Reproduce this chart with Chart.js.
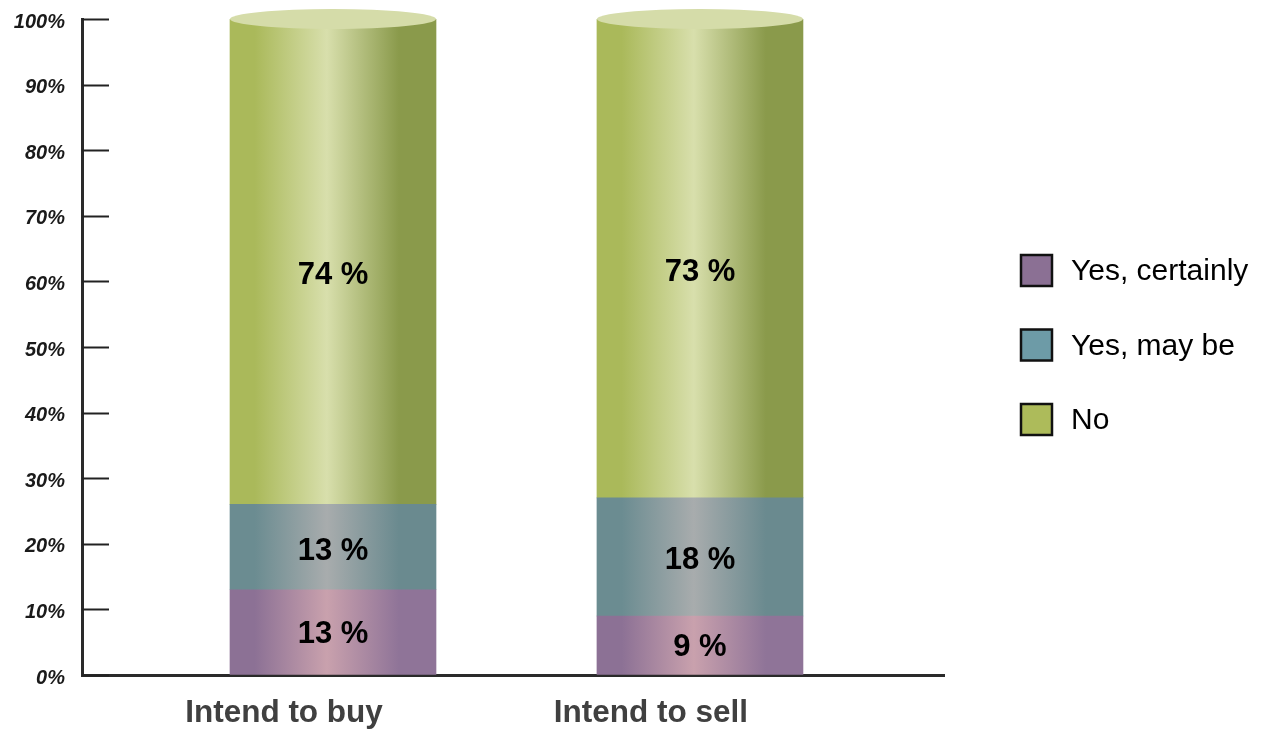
<!DOCTYPE html>
<html>
<head>
<meta charset="utf-8">
<title>Intentions to buy or sell</title>
<script src="https://cdn.jsdelivr.net/npm/chart.js@4.4.1/dist/chart.umd.min.js"></script>
<style>
  html, body { margin: 0; padding: 0; background: #ffffff; }
  #wrap { width: 1270px; height: 730px; position: relative; }
</style>
</head>
<body>
<div id="wrap"><canvas id="chart" width="1270" height="730"></canvas></div>
<script>
// ---- data ----
const categories = ['Intend to buy', 'Intend to sell'];
const seriesNames = ['Yes, certainly', 'Yes, may be', 'No'];
const yesCertainly = [13, 9];
const yesMaybe = [13, 18];
const no = [74, 73];
const yTicks = [0, 10, 20, 30, 40, 50, 60, 70, 80, 90, 100];

// ---- styling ----
const FONT = 'Arial, "Liberation Sans", sans-serif';
const shades = [
  { left: '#8c7195', mid: '#c9a1ad', right: '#8f7498', key: '#8b7094', nudge: 2 },
  { left: '#6b8c91', mid: '#a8acad', right: '#6a8a8f', key: '#6d9ba7', nudge: 4 },
  { left: '#aab95a', mid: '#d8dfac', right: '#8a9a4b', key: '#adbb5a', nudge: 14 }
];

function cylinderFill(c, s) {
  const chart = c.chart;
  if (!chart.chartArea || !c.raw) return s.left;
  const xs = chart.scales.x;
  const cx = xs.getPixelForValue(c.raw.x);
  const half = 103;
  const g = chart.ctx.createLinearGradient(cx - half, 0, cx + half, 0);
  g.addColorStop(0, s.left);
  g.addColorStop(0.12, s.left);
  g.addColorStop(0.47, s.mid);
  g.addColorStop(0.82, s.right);
  g.addColorStop(1, s.right);
  return g;
}

const seriesValues = [yesCertainly, yesMaybe, no];
const datasets = seriesValues.map((vals, k) => ({
  label: seriesNames[k],
  data: vals.map((v, i) => ({ x: i + 1, y: v })),
  backgroundColor: (c) => cylinderFill(c, shades[k]),
  borderWidth: 0,
  barThickness: 206
}));

// inward tick marks on the value axis
const innerTicks = {
  id: 'innerTicks',
  afterDatasetsDraw(chart) {
    const ys = chart.scales.y, ctx = chart.ctx;
    const x0 = chart.chartArea.left;
    ctx.save();
    ctx.strokeStyle = '#222';
    ctx.lineWidth = 2;
    ys.ticks.forEach(t => {
      const y = Math.round(ys.getPixelForValue(t.value)) + 0.5;
      ctx.beginPath();
      ctx.moveTo(x0, y);
      ctx.lineTo(x0 + 27, y);
      ctx.stroke();
    });
    ctx.restore();
  }
};

// elliptical cap on top of each cylinder
const cylinderCaps = {
  id: 'cylinderCaps',
  afterDatasetsDraw(chart) {
    const ctx = chart.ctx;
    const meta = chart.getDatasetMeta(chart.data.datasets.length - 1);
    ctx.save();
    meta.data.forEach(el => {
      ctx.beginPath();
      ctx.ellipse(el.x, el.y, el.width / 2, 10, 0, 0, Math.PI * 2);
      ctx.fillStyle = '#d5dca9';
      ctx.fill();
    });
    ctx.restore();
  }
};

// value labels inside each segment
const segmentLabels = {
  id: 'segmentLabels',
  afterDatasetsDraw(chart) {
    const ctx = chart.ctx;
    ctx.save();
    ctx.font = 'bold 31px ' + FONT;
    ctx.fillStyle = '#000';
    ctx.textAlign = 'center';
    ctx.textBaseline = 'middle';
    chart.data.datasets.forEach((ds, k) => {
      chart.getDatasetMeta(k).data.forEach((el, i) => {
        const v = ds.data[i].y;
        const y = (el.y + el.base) / 2 + shades[k].nudge;
        ctx.fillText(v + ' %', el.x, y);
      });
    });
    ctx.restore();
  }
};

// legend to the right of the plot
const sideLegend = {
  id: 'sideLegend',
  afterDraw(chart) {
    const ctx = chart.ctx;
    ctx.save();
    ctx.font = '30px ' + FONT;
    ctx.textBaseline = 'middle';
    chart.data.datasets.forEach((ds, k) => {
      const cy = 271 + k * 74.5;
      ctx.fillStyle = shades[k].key;
      ctx.fillRect(1021, cy - 16, 31, 31);
      ctx.strokeStyle = '#111';
      ctx.lineWidth = 2.5;
      ctx.strokeRect(1021, cy - 16, 31, 31);
      ctx.fillStyle = '#000';
      ctx.fillText(ds.label, 1071, cy + 1);
    });
    ctx.restore();
  }
};

new Chart(document.getElementById('chart'), {
  type: 'bar',
  data: { datasets },
  options: {
    responsive: false,
    animation: false,
    events: [],
    layout: { padding: { left: 0, top: 19, right: 326, bottom: 0 } },
    plugins: { legend: { display: false }, tooltip: { enabled: false } },
    scales: {
      x: {
        type: 'linear',
        stacked: true,
        offset: false,
        min: 0.316,
        max: 2.665,
        afterBuildTicks: (s) => { s.ticks = categories.map((_, i) => ({ value: i + 1 })); },
        afterFit: (s) => { s.height = 55; },
        grid: { display: false, drawTicks: false, offset: false },
        border: { display: true, color: '#2a2a2a', width: 3 },
        ticks: {
          callback: (v) => categories[Math.round(v) - 1] || '',
          font: { family: FONT, size: 31.5, weight: 'bold' },
          color: '#404040',
          padding: 19,
          labelOffset: -49,
          maxRotation: 0,
          autoSkip: false
        }
      },
      y: {
        stacked: true,
        min: 0,
        max: 100,
        afterBuildTicks: (s) => { s.ticks = yTicks.map(v => ({ value: v })); },
        afterFit: (s) => { s.width = 82; },
        grid: {
          display: true,
          drawOnChartArea: false,
          drawTicks: true,
          tickLength: 17,
          color: 'rgba(0,0,0,0)'
        },
        border: { display: true, color: '#2a2a2a', width: 3 },
        ticks: {
          callback: (v) => v + '%',
          font: { family: FONT, size: 20, weight: 'bold', style: 'italic' },
          color: '#1a1a1a',
          padding: 0,
          labelOffset: 3
        }
      }
    }
  },
  plugins: [innerTicks, cylinderCaps, segmentLabels, sideLegend]
});
</script>
</body>
</html>
